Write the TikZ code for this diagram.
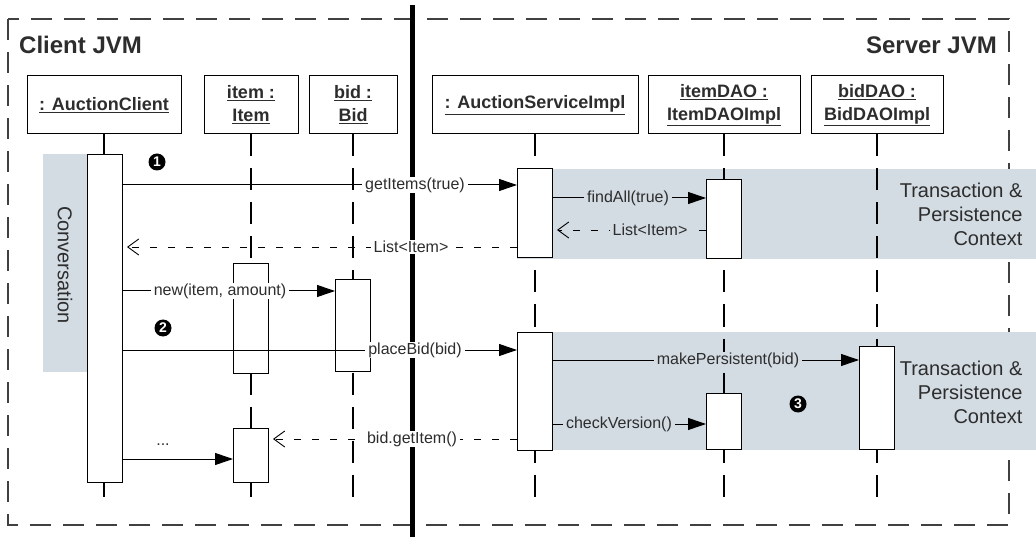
\documentclass[tikz,border=0pt]{standalone}
\usepackage{fontspec}
\setmainfont{Liberation Sans}
\usetikzlibrary{arrows.meta}
\definecolor{band}{RGB}{211,219,227}
\definecolor{txt}{RGB}{45,45,45}
\begin{document}
\begin{tikzpicture}[x=1pt,y=-1pt,
  obj/.style={draw, line width=1pt, minimum width=#1, minimum height=58pt, inner sep=0pt, align=center, text=txt, font=\bfseries\fontsize{18}{23}\selectfont},
  act/.style={draw, fill=white, line width=1pt, minimum width=35pt, minimum height=#1, inner sep=0pt},
  life/.style={line width=1.1pt, dash pattern=on 22pt off 12pt},
  call/.style={line width=1pt, -{Triangle[length=18pt,width=12pt]}},
  ret/.style={line width=0.9pt, dash pattern=on 7pt off 11pt, shorten >=4pt, -{Straight Barb[length=11pt,width=16pt]}},
  lbl/.style={fill=white, text=txt, inner xsep=3pt, inner ysep=1pt, font=\fontsize{16}{19}\selectfont},
  blbl/.style={lbl, fill=band},
  numbadge/.style={circle, fill=black, text=white, inner sep=0pt, minimum size=17pt, font=\bfseries\fontsize{14}{14}\selectfont},
  big/.style={text=txt, font=\fontsize{20}{24}\selectfont},
  title/.style={text=txt, inner sep=0pt, font=\bfseries\fontsize{24}{28}\selectfont},
  frame/.style={line width=1.5pt, draw=black!75, dash pattern=on 21pt off 12pt}
]
\useasboundingbox (0,0) rectangle (1036,537);

% frame
\draw[frame] (8,19) rectangle (1009,525);
\node[title, anchor=west] (client) at (19,45) {Client JVM};
\node[title, anchor=east] (server) at (997,45) {Server JVM};

% bands
\fill[band] (43,154) rectangle (90,372);
\fill[band] (517,169) rectangle (1036,259);
\fill[band] (517,332) rectangle (1036,450);
\node[big, rotate=-90] (conv) at (65,265) {Conversation};
\node[big, align=right, anchor=east] (tx1) at (1026,214) {Transaction \&\\Persistence\\Context};
\node[big, align=right, anchor=east] (tx2) at (1026,392) {Transaction \&\\Persistence\\Context};

% thick separator
\coordinate (sepT) at (412,5);
\coordinate (sepB) at (412,537);
\draw[line width=5pt] (sepT) -- (sepB);

% objects
\node[obj=154pt] (ac) at (104,105) {\underline{: AuctionClient}};
\node[obj=94pt] (it) at (251,105) {\underline{item :}\\\underline{Item}};
\node[obj=88pt] (bd) at (353,105) {\underline{bid :}\\\underline{Bid}};
\node[obj=206pt] (as) at (535,105) {\underline{: AuctionServiceImpl}};
\node[obj=152pt] (id) at (724,105) {\underline{itemDAO :}\\\underline{ItemDAOImpl}};
\node[obj=132pt] (bdd) at (877,105) {\underline{bidDAO :}\\\underline{BidDAOImpl}};

% lifelines
\foreach \n in {ac,it,bd,as,id,bdd} {
  \coordinate (\n-end) at (\n.south |- 0,498);
  \draw[life] (\n.south) -- (\n-end);
}

% activations
\node[act=327pt] (acA) at (105,318.5) {};
\node[act=109pt] (itA1) at (251,318.5) {};
\node[act=91pt]  (bdA) at (353,325.5) {};
\node[act=54pt]  (itA2) at (251,455) {};
\node[act=89pt]  (asA1) at (535,213.5) {};
\node[act=79pt]  (idA1) at (724,219.5) {};
\node[act=118pt] (asA2) at (535,391) {};
\node[act=103pt] (bdA2) at (877,397.5) {};
\node[act=56pt]  (idA2) at (724,421) {};

% messages
\draw[call] (acA.east |- 0,185) -- (asA1.west |- 0,185);
\node[lbl] (m1) at (415,185) {getItems(true)};
\draw[ret] (asA1.west |- 0,247) -- (acA.east |- 0,247);
\node[lbl] (m2) at (411,247) {List<Item>};
\draw[call] (asA1.east |- 0,198) -- (idA1.west |- 0,198);
\node[blbl] (m3) at (628,198) {findAll(true)};
\draw[ret] (idA1.west |- 0,230) -- (asA1.east |- 0,230);
\node[blbl] (m4) at (650,230) {List<Item>};
\draw[call] (acA.east |- 0,291) -- (bdA.west |- 0,291);
\node[lbl] (m5) at (220,291) {new(item, amount)};
\draw[call] (acA.east |- 0,350) -- (asA2.west |- 0,350);
\node[lbl] (m6) at (415,350) {placeBid(bid)};
\draw[call] (asA2.east |- 0,360) -- (bdA2.west |- 0,360);
\node[blbl] (m7) at (728,360) {makePersistent(bid)};
\draw[call] (asA2.east |- 0,424) -- (idA2.west |- 0,424);
\node[blbl] (m8) at (619,424) {checkVersion()};
\draw[ret] (asA2.west |- 0,439) -- (itA2.east |- 0,439);
\node[lbl] (m9) at (412,439) {bid.getItem()};
\draw[call] (acA.east |- 0,459) -- (itA2.west |- 0,459);
\node[text=txt, font=\fontsize{16}{19}\selectfont] (m10) at (163,445) {...};

% markers
\node[numbadge] (k1) at (157,162) {1};
\node[numbadge] (k2) at (163,328) {2};
\node[numbadge] (k3) at (798,404) {3};
\end{tikzpicture}
\end{document}
